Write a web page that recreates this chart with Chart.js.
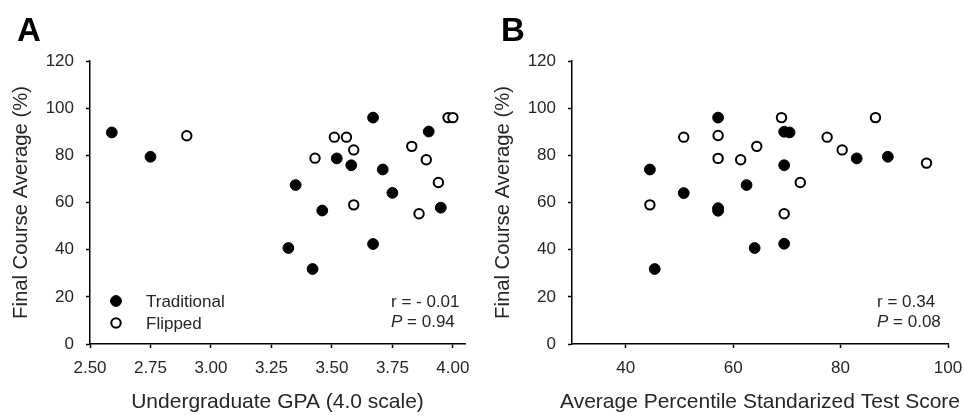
<!DOCTYPE html>
<html>
<head>
<meta charset="utf-8">
<script src="https://cdn.jsdelivr.net/npm/chart.js@4"></script>
<style>
  body { margin: 0; background: #fff; }
  #wrap { position: relative; width: 964px; height: 415px; }
  canvas { position: absolute; top: 0; }
  #chartA { left: 0; }
  #chartB { left: 482px; }
</style>
</head>
<body>
<div id="wrap">
  <canvas id="chartA" width="482" height="415"></canvas>
  <canvas id="chartB" width="482" height="415"></canvas>
</div>
<script>
// Panel A: undergraduate GPA vs final course average
const gpaTraditional = [2.59, 2.75, 3.67, 3.90, 3.52, 3.58, 3.71, 3.35, 3.75, 3.46, 3.95, 3.32, 3.67, 3.42];
const avgTraditionalA = [89.7, 79.4, 96.0, 90.1, 78.7, 75.8, 74.0, 67.4, 64.1, 56.6, 57.8, 40.7, 42.4, 31.8];
const gpaFlipped = [2.90, 3.43, 3.51, 3.56, 3.59, 3.59, 3.98, 4.00, 3.83, 3.89, 3.94, 3.86];
const avgFlippedA = [88.3, 78.8, 87.7, 87.7, 82.3, 59.0, 96.0, 96.0, 83.8, 78.1, 68.5, 55.2];

// Panel B: average percentile standardized test score vs final course average
const testTraditional = [44.5, 45.4, 50.8, 57.2, 57.2, 57.2, 62.5, 64.0, 69.5, 70.5, 69.5, 69.5, 83.0, 88.8];
const avgTraditionalB = [74.0, 31.8, 64.0, 96.0, 57.6, 56.5, 67.4, 40.7, 90.0, 89.7, 75.8, 42.5, 78.7, 79.4];
const testFlipped = [44.5, 50.8, 57.2, 57.2, 61.4, 64.4, 69.0, 69.5, 72.5, 77.5, 80.3, 86.5, 96.0];
const avgFlippedB = [59.0, 87.7, 88.4, 78.7, 78.1, 83.8, 96.0, 55.2, 68.5, 87.7, 82.3, 96.0, 76.7];

// Tick labels
const gpaTicks = [2.50, 2.75, 3.00, 3.25, 3.50, 3.75, 4.00];
const testTicks = [40, 60, 80, 100];
const avgTicks = [0, 20, 40, 60, 80, 100, 120];

// Correlation stats per panel
const rValues = ['- 0.01', '0.34'];
const pValues = ['0.94', '0.08'];

const FONT = '"Liberation Sans", Arial, Helvetica, sans-serif';
const TEXT = '#262626';

const toPoints = (xs, ys) => xs.map((x, i) => ({ x: x, y: ys[i] }));

// Draws the panel letter, x-axis title, the in-plot legend and the r / P note
const panelDecor = {
  id: 'panelDecor',
  afterDraw(chart, args, opts) {
    const { ctx, chartArea } = chart;
    ctx.save();
    ctx.fillStyle = '#000';
    ctx.textAlign = 'left';
    ctx.textBaseline = 'alphabetic';
    ctx.font = 'bold 33px ' + FONT;
    ctx.fillText(opts.letter, opts.letterX, 41);

    // x title drawn without the scale's width limit (B's title is wider than its axis)
    ctx.fillStyle = TEXT;
    ctx.textAlign = 'center';
    ctx.textBaseline = 'middle';
    ctx.font = '21px ' + FONT;
    ctx.fillText(opts.xTitle, (chartArea.left + chartArea.right) / 2, 402);

    ctx.textAlign = 'left';
    ctx.font = '17px ' + FONT;
    if (opts.legend) {
      chart.data.datasets.forEach((ds, i) => {
        const y = chartArea.bottom - 43 + i * 22;
        ctx.beginPath();
        ctx.arc(chartArea.left + 26, y, ds.pointRadius, 0, Math.PI * 2);
        ctx.fillStyle = ds.pointBackgroundColor;
        ctx.fill();
        ctx.lineWidth = ds.pointBorderWidth;
        ctx.strokeStyle = ds.pointBorderColor;
        ctx.stroke();
        ctx.fillStyle = TEXT;
        ctx.fillText(ds.label, chartArea.left + 56, y + 1);
      });
    }

    const sx = chartArea.right - opts.statsOffset;
    ctx.fillStyle = TEXT;
    ctx.fillText('r = ' + rValues[opts.index], sx, chartArea.bottom - 42);
    ctx.font = 'italic 17px ' + FONT;
    ctx.fillText('P', sx, chartArea.bottom - 22);
    const pw = ctx.measureText('P').width;
    ctx.font = '17px ' + FONT;
    ctx.fillText(' = ' + pValues[opts.index], sx + pw, chartArea.bottom - 22);
    ctx.restore();
  }
};

const makeChart = (id, index, xMin, xMax, xTicks, xDigits, xTitle, trad, flip, letterX) => {
  return new Chart(document.getElementById(id), {
    type: 'scatter',
    data: {
      datasets: [
        {
          label: 'Traditional',
          data: trad,
          pointRadius: 5.4,
          pointBackgroundColor: '#000',
          pointBorderColor: '#000',
          pointBorderWidth: 1,
        },
        {
          label: 'Flipped',
          data: flip,
          pointRadius: 4.7,
          pointBackgroundColor: '#fff',
          pointBorderColor: '#000',
          pointBorderWidth: 2,
        },
      ],
    },
    options: {
      responsive: false,
      animation: false,
      devicePixelRatio: 1,
      layout: { padding: { left: 0, top: 61, right: index === 0 ? 17 : 16, bottom: 0 } },
      plugins: {
        legend: { display: false },
        tooltip: { enabled: false },
        panelDecor: {
          letter: index === 0 ? 'A' : 'B',
          letterX: letterX,
          xTitle: xTitle,
          legend: index === 0,
          index: index,
          statsOffset: index === 0 ? 74 : 71,
        },
      },
      scales: {
        x: {
          type: 'linear',
          min: xMin,
          max: xMax,
          afterBuildTicks: (scale) => { scale.ticks = xTicks.map((v) => ({ value: v })); },
          afterFit: (scale) => { scale.height = 71; scale.paddingLeft = 0; scale.paddingRight = 0; },
          ticks: {
            padding: 10,
            color: TEXT,
            font: { family: FONT, size: 17 },
            maxRotation: 0,
            callback: (v) => Number(v).toFixed(xDigits),
          },
          grid: { drawOnChartArea: false, tickLength: 4, tickWidth: 1.5, tickColor: '#000' },
          border: { color: '#000', width: 1.5 },
        },
        y: {
          min: 0,
          max: 120,
          afterBuildTicks: (scale) => { scale.ticks = avgTicks.map((v) => ({ value: v })); },
          afterFit: (scale) => { scale.width = 90; scale.paddingTop = 0; scale.paddingBottom = 0; },
          ticks: { padding: 12, color: TEXT, font: { family: FONT, size: 17 } },
          grid: { drawOnChartArea: false, tickLength: 4, tickWidth: 1.5, tickColor: '#000' },
          border: { color: '#000', width: 1.5 },
          title: { display: true, text: 'Final Course Average (%)', color: TEXT, font: { family: FONT, size: 20.3 }, padding: { top: 9, bottom: 0 } },
        },
      },
    },
    plugins: [panelDecor],
  });
};

makeChart('chartA', 0, 2.5, 4.05, gpaTicks, 2, 'Undergraduate GPA (4.0 scale)',
  toPoints(gpaTraditional, avgTraditionalA), toPoints(gpaFlipped, avgFlippedA), 17);
makeChart('chartB', 1, 30, 100, testTicks, 0, 'Average Percentile Standarized Test Score',
  toPoints(testTraditional, avgTraditionalB), toPoints(testFlipped, avgFlippedB), 19);
</script>
</body>
</html>
